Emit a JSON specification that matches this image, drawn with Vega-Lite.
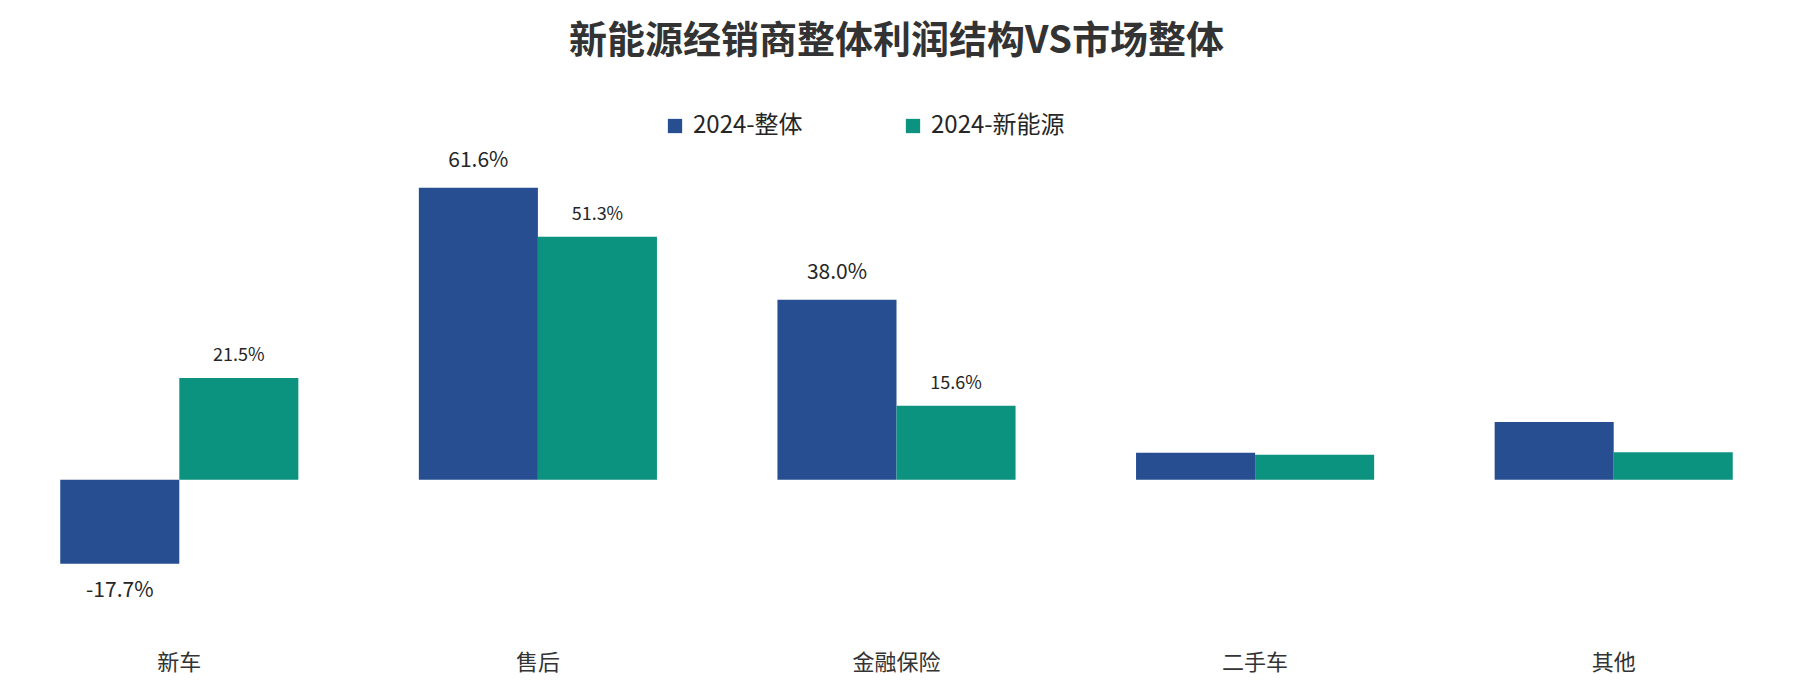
{
  "$schema": "https://vega.github.io/schema/vega-lite/v6.json",
  "autosize": {"type": "none"},
  "width": 1793,
  "height": 474,
  "padding": {"left": 0, "right": 0, "top": 148, "bottom": 67},
  "background": "white",
  "title": {
    "text": "新能源经销商整体利润结构VS市场整体",
    "anchor": "middle",
    "frame": "group",
    "fontSize": 38,
    "fontWeight": "bold",
    "color": "#333333",
    "font": "Noto Sans CJK SC",
    "offset": 53
  },
  "config": {
    "view": {"stroke": null},
    "font": "Noto Sans CJK SC",
    "locale": {"number": {"decimal": ".", "thousands": ",", "grouping": [3], "currency": ["", ""], "minus": "-"}}
  },
  "data": {
    "values": [
      {"category": "新车", "series": "2024-整体", "value": -0.177},
      {"category": "新车", "series": "2024-新能源", "value": 0.215},
      {"category": "售后", "series": "2024-整体", "value": 0.616},
      {"category": "售后", "series": "2024-新能源", "value": 0.513},
      {"category": "金融保险", "series": "2024-整体", "value": 0.38},
      {"category": "金融保险", "series": "2024-新能源", "value": 0.156},
      {"category": "二手车", "series": "2024-整体", "value": 0.057},
      {"category": "二手车", "series": "2024-新能源", "value": 0.053},
      {"category": "其他", "series": "2024-整体", "value": 0.122},
      {"category": "其他", "series": "2024-新能源", "value": 0.058}
    ]
  },
  "encoding": {
    "x": {
      "field": "category",
      "type": "nominal",
      "sort": ["新车", "售后", "金融保险", "二手车", "其他"],
      "scale": {"paddingInner": 0.336, "paddingOuter": 0.168},
      "axis": {
        "title": null,
        "domain": false,
        "ticks": false,
        "labelAngle": 0,
        "labelFontSize": 22,
        "labelColor": "#333333",
        "labelPadding": 30
      }
    },
    "xOffset": {
      "field": "series",
      "type": "nominal",
      "sort": ["2024-整体", "2024-新能源"],
      "scale": {"paddingInner": 0, "paddingOuter": 0}
    },
    "y": {
      "field": "value",
      "type": "quantitative",
      "scale": {"domain": [-0.3, 0.7], "nice": false},
      "axis": null
    }
  },
  "layer": [
    {
      "mark": {"type": "bar"},
      "encoding": {
        "color": {
          "field": "series",
          "type": "nominal",
          "sort": ["2024-整体", "2024-新能源"],
          "scale": {"domain": ["2024-整体", "2024-新能源"], "range": ["#264E91", "#0B9380"]},
          "legend": {
            "orient": "none",
            "legendX": 663,
            "legendY": -34,
            "direction": "horizontal",
            "title": null,
            "symbolType": "square",
            "symbolSize": 204,
            "symbolStrokeWidth": 0,
            "symbolOpacity": 1,
            "labelFontSize": 24,
            "labelColor": "#262626",
            "labelOffset": 6,
            "columnPadding": 98,
            "padding": 0
          }
        }
      }
    },
    {
      "transform": [{"filter": "datum.series == '2024-整体' && datum.value > 0 && (datum.category == '售后' || datum.category == '金融保险')"}],
      "mark": {"type": "text", "dy": -27, "fontSize": 21, "color": "#262626"},
      "encoding": {"text": {"field": "value", "type": "quantitative", "format": ".1%"}}
    },
    {
      "transform": [{"filter": "datum.series == '2024-整体' && datum.value < 0"}],
      "mark": {"type": "text", "dy": 27, "fontSize": 21, "color": "#262626"},
      "encoding": {"text": {"field": "value", "type": "quantitative", "format": ".1%"}}
    },
    {
      "transform": [{"filter": "datum.series == '2024-新能源' && (datum.category == '新车' || datum.category == '售后' || datum.category == '金融保险')"}],
      "mark": {"type": "text", "dy": -22, "fontSize": 18, "color": "#262626"},
      "encoding": {"text": {"field": "value", "type": "quantitative", "format": ".1%"}}
    }
  ]
}
